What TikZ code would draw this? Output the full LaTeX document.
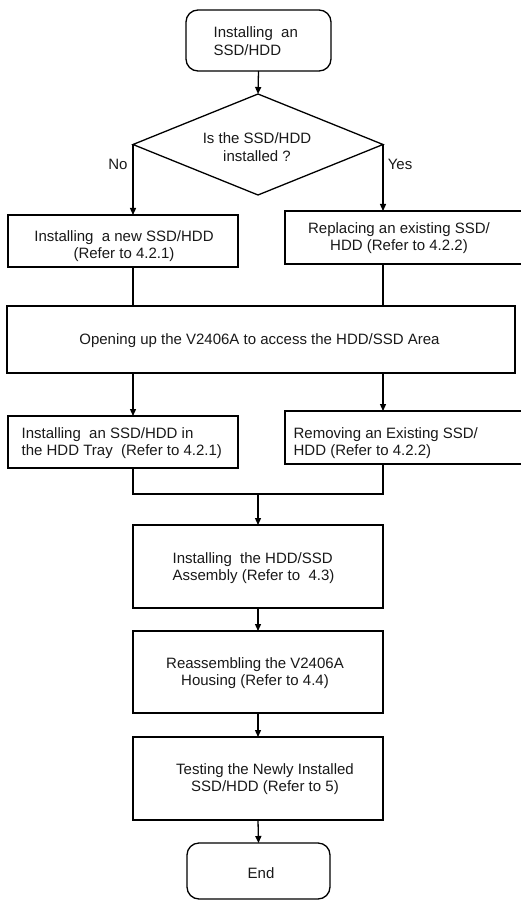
\documentclass[tikz,border=0pt]{standalone}
\usepackage{fontspec}
\setmainfont{Liberation Sans}
\usetikzlibrary{arrows.meta,shapes.geometric}
\begin{document}
\begin{tikzpicture}[x=1pt,y=-1pt,
  line width=1.3pt,
  txt/.style={font=\fontsize{15}{17.5}\selectfont, inner sep=0pt, text=black!90},
  box/.style={draw, rectangle, outer sep=0pt, inner sep=0pt},
  rbox/.style={draw, rectangle, rounded corners=12pt, outer sep=0pt, inner sep=0pt},
  dbox/.style={draw, diamond, outer sep=0pt, inner sep=0pt},
  arr/.style={-{Triangle[length=7pt,width=6pt]}}]
\clip (0,0) rectangle (521,901);
\fill[white] (0,0) rectangle (521,901);

% shapes
\node[rbox, minimum width=145pt, minimum height=61pt] (start) at (258.5,40.5) {};
\node[dbox, minimum width=250pt, minimum height=101pt] (dec) at (258,144.5) {};
\node[box, minimum width=230pt, minimum height=52pt] (b1) at (123,241) {};
\node[box, minimum width=245pt, minimum height=53pt] (b2) at (407.5,237.5) {};
\node[box, minimum width=508pt, minimum height=67pt] (b3) at (261,339.5) {};
\node[box, minimum width=230pt, minimum height=52pt] (b4) at (123,442) {};
\node[box, minimum width=245pt, minimum height=53pt] (b5) at (407.5,437.5) {};
\node[box, minimum width=250pt, minimum height=83pt] (b6) at (258,566.5) {};
\node[box, minimum width=250pt, minimum height=82pt] (b7) at (258,672) {};
\node[box, minimum width=250pt, minimum height=83pt] (b8) at (258,778.5) {};
\node[rbox, minimum width=143pt, minimum height=56pt] (fin) at (258.5,871) {};

% texts
\node[txt, align=left, anchor=west] (t0) at (213,41) {Installing\ \ an\\SSD/HDD};
\node[txt, align=center] (td) at (257,147) {Is the SSD/HDD\\installed ?};
\node[txt] (no) at (118,164) {No};
\node[txt] (yes) at (400,164) {Yes};
\node[txt, align=center] (t1) at (124,246) {Installing\ \ a new SSD/HDD\\(Refer to 4.2.1)};
\node[txt, align=center] (t2) at (399,238) {Replacing an existing SSD/\\HDD (Refer to 4.2.2)};
\node[txt] (t3) at (259.5,341) {Opening up the V2406A to access the HDD/SSD Area};
\node[txt, align=left, anchor=west] (t4) at (21,443) {Installing\ \ an SSD/HDD in\\the HDD Tray\ \ (Refer to 4.2.1)};
\node[txt, align=left, anchor=west] (t5) at (293,443) {Removing an Existing SSD/\\HDD (Refer to 4.2.2)};
\node[txt, align=left, anchor=west] (t6) at (172,568) {Installing\ \ the HDD/SSD\\Assembly (Refer to\ \ 4.3)};
\node[txt, align=center] (t7) at (255,673) {Reassembling the V2406A\\Housing (Refer to 4.4)};
\node[txt, align=center] (t8) at (265,779) {Testing the Newly Installed\\SSD/HDD (Refer to 5)};
\node[txt] (t9) at (261,873) {End};

% connectors
\coordinate (jl) at (133,494);
\coordinate (jr) at (383,494);
\coordinate (jm) at (258,494);
\draw[arr] (start.south) -- (dec.north);
\draw[arr] (dec.west) -- (dec.west |- b1.north);
\draw[arr] (dec.east) -- (dec.east |- b2.north);
\draw (dec.west |- b1.south) -- (dec.west |- b3.north);
\draw (dec.east |- b2.south) -- (dec.east |- b3.north);
\draw[arr] (dec.west |- b3.south) -- (dec.west |- b4.north);
\draw[arr] (dec.east |- b3.south) -- (dec.east |- b5.north);
\draw (jl |- b4.south) -- (jl) -- (jr) -- (jr |- b5.south);
\draw[arr] (jm) -- (b6.north);
\draw[arr] (b6.south) -- (b7.north);
\draw[arr] (b7.south) -- (b8.north);
\draw[arr] (b8.south) -- (fin.north);
\end{tikzpicture}
\end{document}
